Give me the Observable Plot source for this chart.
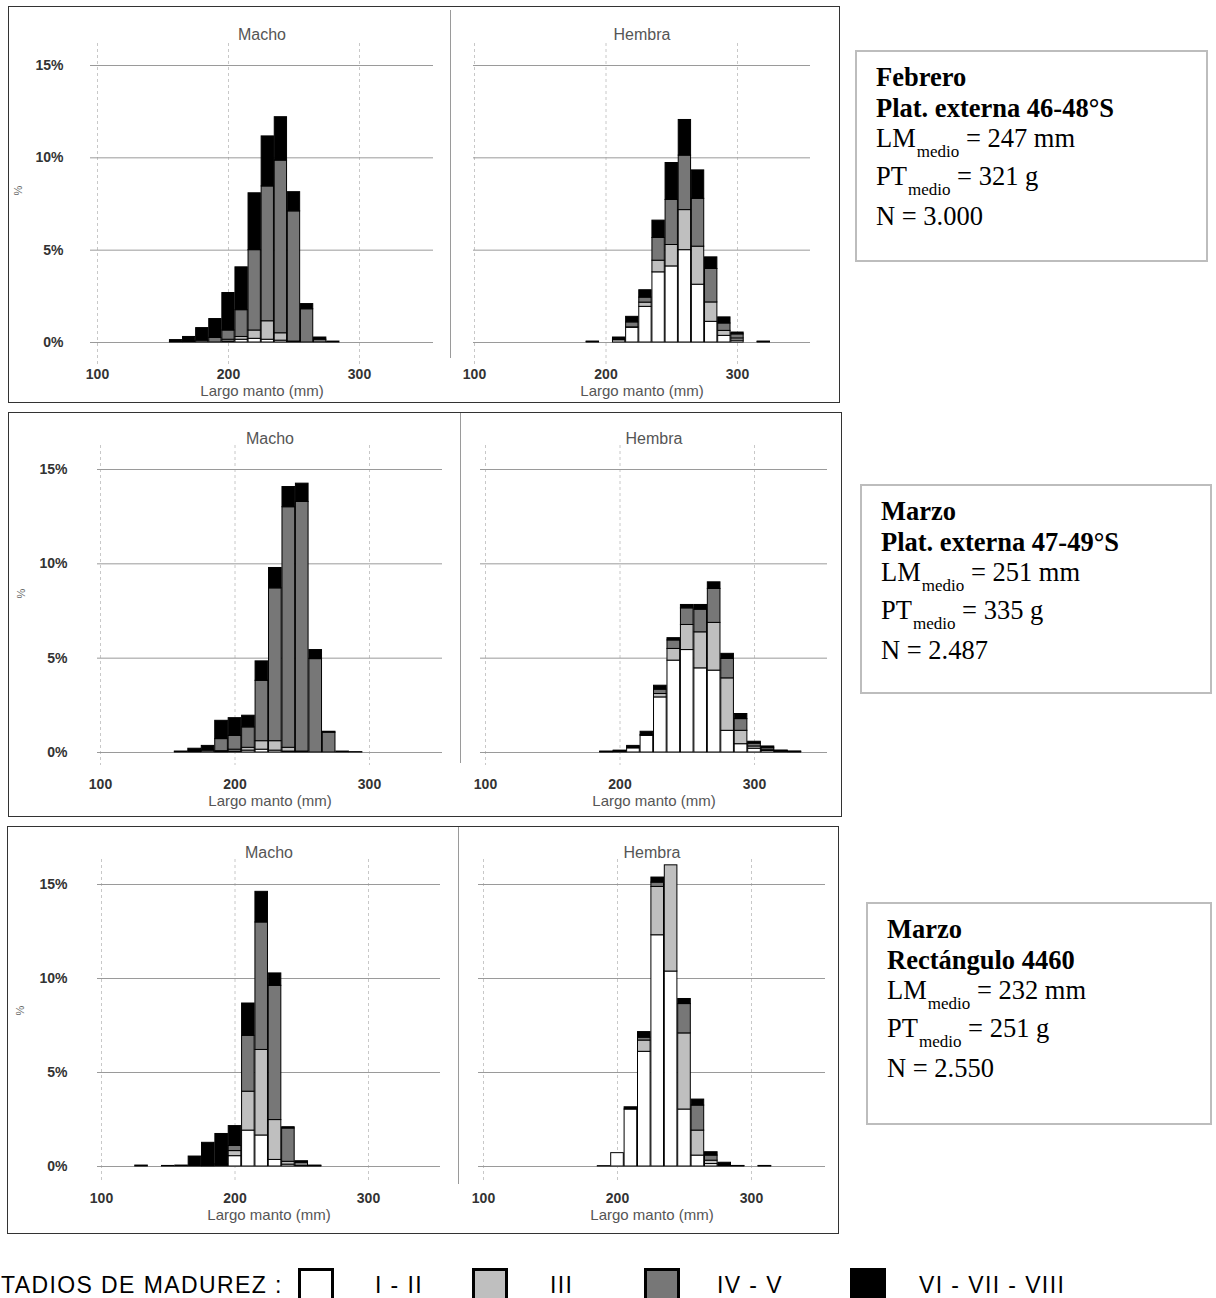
<!DOCTYPE html>
<html><head><meta charset="utf-8">
<script src="https://cdn.jsdelivr.net/npm/d3@7"></script>
<script src="https://cdn.jsdelivr.net/npm/@observablehq/plot@0.6"></script>
<style>
html,body{margin:0;padding:0;background:#fff;}
#page{position:relative;width:1216px;height:1298px;overflow:hidden;background:#fff;font-family:"Liberation Sans",Arial,sans-serif;}
.panel{position:absolute;border:1px solid #333;box-sizing:border-box;}
.sep{position:absolute;width:0;border-left:1.5px solid #9a9a9a;}
.facet{position:absolute;}
.facet g[aria-label^="x-axis"] text,.facet g[aria-label^="y-axis"] text{font-weight:bold;}
.info{position:absolute;border:2px solid #bdbdbd;box-sizing:border-box;font-family:"Liberation Serif","Times New Roman",serif;font-size:26.5px;color:#000;}
.info .ln{position:absolute;white-space:nowrap;line-height:1;}
.info .b{font-weight:bold;}
.sub{font-size:17px;position:relative;top:10px;margin-left:1px;}
.leg{position:absolute;font-size:23px;letter-spacing:1.4px;white-space:pre;line-height:1;color:#000;}
.lbox{position:absolute;box-sizing:border-box;border:3px solid #000;}
</style></head><body><div id="page"></div>
<script>
// ---------- data ----------
const stages = ["I - II", "III", "IV - V", "VI - VII - VIII"];
const stageFill = ["#ffffff", "#bfbfbf", "#777777", "#000000"];
const xTicks = [100, 200, 300];
const yTicks = [0, 5, 10, 15];
const sexes = ["Macho", "Hembra"];
const axisLabel = "Largo manto (mm)";

// Febrero – Plat. externa 46-48°S
const febMachoLM  = [160, 170, 180, 190, 200, 210, 220, 230, 240, 250, 260, 270, 280];
const febMachoI   = [0, 0, 0, 0, 0.05, 0.15, 0.2, 0.15, 0.1, 0, 0, 0, 0];
const febMachoIII = [0, 0, 0, 0, 0.1, 0.15, 0.45, 1.0, 0.4, 0.05, 0, 0, 0];
const febMachoIV  = [0.03, 0.05, 0.1, 0.25, 0.5, 1.45, 4.35, 7.3, 9.35, 7.05, 1.8, 0.15, 0.05];
const febMachoVI  = [0.1, 0.25, 0.68, 1.02, 2.03, 2.32, 3.08, 2.71, 2.35, 1.04, 0.28, 0.12, 0];

const febHembraLM  = [190, 210, 220, 230, 240, 250, 260, 270, 280, 290, 300, 320];
const febHembraI   = [0.03, 0.12, 0.8, 1.93, 3.8, 4.12, 5.0, 3.13, 1.12, 0.36, 0.1, 0.03];
const febHembraIII = [0, 0, 0.02, 0.23, 0.63, 1.16, 2.17, 2.06, 1.05, 0.27, 0.12, 0];
const febHembraIV  = [0.02, 0.05, 0.27, 0.27, 1.23, 2.44, 2.95, 2.59, 1.81, 0.4, 0.22, 0.02];
const febHembraVI  = [0, 0.1, 0.3, 0.4, 0.94, 2.0, 1.93, 1.54, 0.63, 0.33, 0.1, 0];

// Marzo – Plat. externa 47-49°S
const marMachoLM  = [160, 170, 180, 190, 200, 210, 220, 230, 240, 250, 260, 270, 280, 290];
const marMachoI   = [0, 0, 0, 0.02, 0.05, 0.1, 0.15, 0.1, 0.05, 0, 0, 0, 0, 0];
const marMachoIII = [0, 0, 0, 0.05, 0.1, 0.15, 0.45, 0.5, 0.2, 0.05, 0, 0, 0, 0];
const marMachoIV  = [0.03, 0.05, 0.1, 0.64, 0.73, 1.08, 3.2, 8.1, 12.75, 13.23, 4.95, 1.05, 0.05, 0.02];
const marMachoVI  = [0.02, 0.15, 0.25, 0.97, 0.94, 0.62, 1.03, 1.08, 1.07, 0.97, 0.48, 0.05, 0, 0];

const marHembraLM  = [190, 200, 210, 220, 230, 240, 250, 260, 270, 280, 290, 300, 310, 320, 330];
const marHembraI   = [0.02, 0.05, 0.22, 0.88, 2.92, 4.87, 5.43, 4.46, 4.34, 1.15, 0.44, 0.2, 0.08, 0.04, 0.02];
const marHembraIII = [0, 0, 0, 0, 0.18, 0.62, 1.33, 1.91, 2.53, 2.78, 0.71, 0.12, 0.07, 0.02, 0];
const marHembraIV  = [0.01, 0.02, 0.05, 0.05, 0.23, 0.45, 0.88, 1.2, 1.8, 1.03, 0.62, 0.15, 0.1, 0.03, 0.02];
const marHembraVI  = [0.02, 0.03, 0.08, 0.17, 0.21, 0.12, 0.18, 0.25, 0.35, 0.27, 0.27, 0.1, 0.07, 0.01, 0.01];

// Marzo – Rectángulo 4460
const recMachoLM  = [130, 150, 160, 170, 180, 190, 200, 210, 220, 230, 240, 250, 260];
const recMachoI   = [0, 0, 0, 0, 0, 0.05, 0.55, 1.91, 1.65, 0.35, 0.1, 0, 0];
const recMachoIII = [0, 0, 0, 0, 0, 0.03, 0.27, 2.07, 4.55, 2.12, 0.15, 0.02, 0];
const recMachoIV  = [0, 0, 0, 0, 0.02, 0.05, 0.27, 2.97, 6.78, 7.14, 1.77, 0.18, 0.02];
const recMachoVI  = [0.05, 0.03, 0.05, 0.53, 1.24, 1.6, 1.06, 1.72, 1.63, 0.66, 0.07, 0.08, 0.03];

const recHembraLM  = [190, 200, 210, 220, 230, 240, 250, 260, 270, 280, 290, 310];
const recHembraI   = [0.02, 0.71, 3.03, 6.1, 12.3, 10.37, 3.03, 0.58, 0.13, 0, 0.02, 0.02];
const recHembraIII = [0, 0, 0, 0.6, 2.57, 5.65, 4.05, 1.33, 0.18, 0, 0, 0];
const recHembraIV  = [0, 0, 0, 0.15, 0.23, 0, 1.56, 1.33, 0.27, 0.05, 0.01, 0.01];
const recHembraVI  = [0, 0, 0.12, 0.3, 0.27, 0, 0.27, 0.32, 0.18, 0.15, 0, 0];

// info boxes
const infoMonth = ["Febrero", "Marzo", "Marzo"];
const infoArea  = ["Plat. externa 46-48°S", "Plat. externa 47-49°S", "Rectángulo 4460"];
const infoLM    = ["247 mm", "251 mm", "232 mm"];
const infoPT    = ["321 g", "335 g", "251 g"];
const infoN     = ["3.000", "2.487", "2.550"];
const legendTitle = "TADIOS DE MADUREZ :";

// ---------- helpers ----------
function toRows(lm, a, b, c, d) {
  const out = [];
  lm.forEach((v, i) => {
    [a, b, c, d].forEach((s, k) => { if (s[i] > 0) out.push({lm: v, stage: stages[k], pct: s[i]}); });
  });
  return out;
}
const panelsData = [
  [toRows(febMachoLM, febMachoI, febMachoIII, febMachoIV, febMachoVI), toRows(febHembraLM, febHembraI, febHembraIII, febHembraIV, febHembraVI)],
  [toRows(marMachoLM, marMachoI, marMachoIII, marMachoIV, marMachoVI), toRows(marHembraLM, marHembraI, marHembraIII, marHembraIV, marHembraVI)],
  [toRows(recMachoLM, recMachoI, recMachoIII, recMachoIV, recMachoVI), toRows(recHembraLM, recHembraI, recHembraIII, recHembraIV, recHembraVI)]
];

// ---------- layout (page pixels) ----------
const layout = [
  {box: [8, 6, 832, 397], sep: [450, 10, 358], yT: 43, yB: 365, y0: 342, y15: 65, titleY: 28, tickY: 374, labelY: 395, yTickR: 63, pct: [18, 195],
   facets: [{left: 9, w: 441, xL: 90, xR: 433, x100: 97, x300: 359}, {left: 451, w: 388, xL: 473, xR: 810, x100: 474, x300: 737}],
   info: [855, 50, 353, 212]},
  {box: [8, 412, 834, 405], sep: [460, 413, 763], yT: 445, yB: 765, y0: 752, y15: 469, titleY: 432, tickY: 784, labelY: 805, yTickR: 67, pct: [21, 598],
   facets: [{left: 9, w: 451, xL: 97, xR: 442, x100: 100, x300: 369}, {left: 461, w: 380, xL: 480, xR: 827, x100: 485, x300: 754}],
   info: [860, 484, 352, 210]},
  {box: [7, 826, 832, 408], sep: [458, 827, 1184], yT: 859, yB: 1182, y0: 1166, y15: 884, titleY: 846, tickY: 1198, labelY: 1219, yTickR: 67, pct: [20, 1015],
   facets: [{left: 8, w: 450, xL: 97, xR: 440, x100: 101, x300: 368}, {left: 459, w: 379, xL: 478, xR: 825, x100: 483, x300: 751}],
   info: [866, 902, 346, 223]}
];

const page = document.getElementById("page");
function el(tag, cls, css, html) {
  const e = document.createElement(tag);
  if (cls) e.className = cls;
  Object.assign(e.style, css || {});
  if (html != null) e.innerHTML = html;
  page.appendChild(e);
  return e;
}

layout.forEach((P, pi) => {
  el("div", "panel", {left: P.box[0] + "px", top: P.box[1] + "px", width: P.box[2] + "px", height: P.box[3] + "px"});
  el("div", "sep", {left: P.sep[0] + "px", top: P.sep[1] + "px", height: (P.sep[2] - P.sep[1]) + "px"});
  const top = P.box[1] + 1, h = P.box[3] - 2;
  P.facets.forEach((F, fi) => {
    const showY = fi === 0;
    const kx = (F.x300 - F.x100) / 200;
    const ky = (P.y0 - P.y15) / 15;
    const marks = [
      Plot.ruleX(xTicks, {stroke: "#c8c8c8", strokeDasharray: "3,3"}),
      Plot.ruleY(yTicks, {stroke: "#9a9a9a"}),
      Plot.rectY(panelsData[pi][fi], {x1: d => d.lm - 5, x2: d => d.lm + 5, y: "pct", fill: "stage", stroke: "#000", strokeWidth: 1, insetLeft: 0.4, insetRight: 0.4}),
      Plot.text([sexes[fi]], {text: d => d, frameAnchor: "top", dy: P.titleY - P.yT, fontSize: 16, fill: "#555"}),
      Plot.text([axisLabel], {text: d => d, frameAnchor: "bottom", dy: P.labelY - P.yB, fontSize: 15, fill: "#555"})
    ];
    if (showY) marks.push(Plot.text(["%"], {text: d => d, frameAnchor: "left", dx: P.pct[0] - F.xL, dy: P.pct[1] - (P.yT + P.yB) / 2, rotate: -90, fontSize: 11, fill: "#666"}));
    const svg = Plot.plot({
      width: F.w, height: h,
      marginLeft: F.xL - F.left, marginRight: F.left + F.w - F.xR,
      marginTop: P.yT - top, marginBottom: top + h - P.yB,
      style: {background: "transparent", fontFamily: "Liberation Sans, Arial, sans-serif", fontSize: "14px", color: "#333", overflow: "visible"},
      x: {domain: [100 - (F.x100 - F.xL) / kx, 100 + (F.xR - F.x100) / kx], ticks: xTicks, tickSize: 0, tickPadding: P.tickY - P.yB - 5, tickFormat: d => String(d), label: null},
      y: {domain: [-(P.yB - P.y0) / ky, (P.y0 - P.yT) / ky], ticks: yTicks, tickSize: 0, tickPadding: F.xL - P.yTickR, tickFormat: d => d + "%", label: null, axis: showY ? "left" : null},
      color: {domain: stages, range: stageFill},
      marks
    });
    const holder = el("div", "facet", {left: F.left + "px", top: top + "px", width: F.w + "px", height: h + "px"});
    holder.appendChild(svg);
  });
  // info box
  const [ix, iy, iw, ih] = P.info;
  const box = el("div", "info", {left: ix + "px", top: iy + "px", width: iw + "px", height: ih + "px"});
  const baselines = [36, 67, 97, 135, 175];
  const lines = [
    `<span class="b">${infoMonth[pi]}</span>`,
    `<span class="b">${infoArea[pi]}</span>`,
    `LM<span class="sub">medio</span> = ${infoLM[pi]}`,
    `PT<span class="sub">medio</span> = ${infoPT[pi]}`,
    `N = ${infoN[pi]}`
  ];
  lines.forEach((t, k) => {
    const d = document.createElement("div");
    d.className = "ln";
    d.style.left = "19px";
    d.style.top = (baselines[k] - 22 - 2) + "px";
    d.innerHTML = t;
    box.appendChild(d);
  });
});

// legend
el("div", "leg", {left: "1px", top: "1274px"}, legendTitle);
const legBoxX = [298, 472, 644, 850];
const legTextX = [375, 550, 717, 919];
stages.forEach((s, k) => {
  el("div", "lbox", {left: legBoxX[k] + "px", top: "1268px", width: "36px", height: "40px", background: stageFill[k]});
  el("div", "leg", {left: legTextX[k] + "px", top: "1274px"}, s);
});
</script></body></html>
